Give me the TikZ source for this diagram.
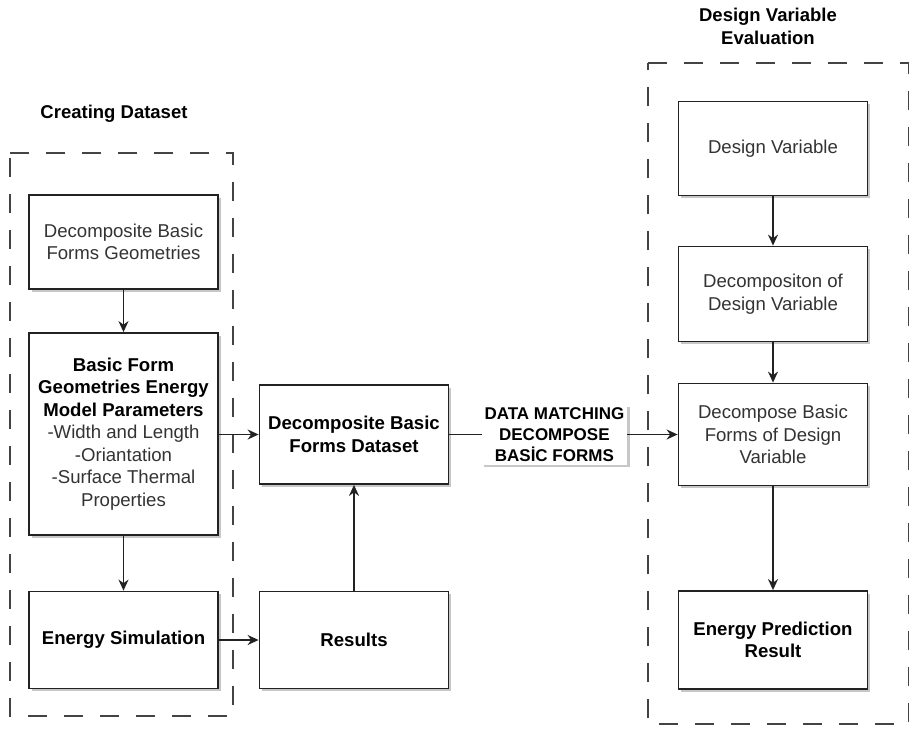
\documentclass[tikz,border=0pt]{standalone}
\usepackage{fontspec}
\setmainfont{Liberation Sans}
\usetikzlibrary{arrows.meta,shadows}
\definecolor{ink}{HTML}{222222}
\definecolor{txt}{HTML}{333333}
\tikzset{
  flowbox/.style={draw=ink, line width=1.8pt, fill=white, align=center, text=txt,
    font=\fontsize{18.6}{22.5}\selectfont, inner sep=0pt,
    drop shadow={shadow xshift=2.5pt, shadow yshift=-2.5pt, opacity=0.22, fill=black}},
  boldbox/.style={flowbox, text=black, font=\fontsize{18.6}{22.5}\selectfont\bfseries},
  conn/.style={draw=ink, line width=1.6pt, -{Stealth[length=11pt,width=10pt]}},
  group/.style={draw=ink!85, line width=1.9pt, dash pattern=on 19pt off 17pt},
  grouptitle/.style={font=\fontsize{18.5}{23}\selectfont\bfseries, text=black, align=center},
}
\begin{document}
\begin{tikzpicture}[x=1pt,y=-1pt]
\useasboundingbox (0,0) rectangle (909,728);
% groups
\draw[group] (10,153) -- (233,153) -- (233,716) -- (10,716) -- cycle;
\draw[group] (648,63) -- (908.5,63) -- (908.5,724) -- (648,724) -- cycle;
\node[grouptitle] (t1) at (114,114) {Creating Dataset};
\node[grouptitle] (t2) at (768,26) {Design Variable\\Evaluation};
% left column
\node[flowbox, minimum width=189pt, minimum height=94pt] (geo) at (123.5,242) {Decomposite Basic\\Forms Geometries};
\node[flowbox, minimum width=189pt, minimum height=202pt] (par) at (123.5,434)
  {\textbf{\color{black}Basic Form}\\\textbf{\color{black}Geometries Energy}\\\textbf{\color{black}Model Parameters}\\-Width and Length\\-Oriantation\\-Surface Thermal\\Properties};
\node[boldbox, minimum width=189pt, minimum height=97pt] (sim) at (123.5,640) {Energy Simulation};
% middle column
\node[boldbox, minimum width=189pt, minimum height=99pt] (ds) at (354,434.5) {Decomposite Basic\\Forms Dataset};
\node[boldbox, minimum width=189pt, minimum height=97pt] (res) at (354,640) {Results};
% right column
\node[flowbox, minimum width=189pt, minimum height=94pt] (dv) at (773,148.5) {Design Variable};
\node[flowbox, minimum width=189pt, minimum height=95pt] (dd) at (773,294) {Decompositon of\\Design Variable};
\node[flowbox, minimum width=189pt, minimum height=102pt] (dbf) at (773,434.5) {Decompose Basic\\Forms of Design\\Variable};
\node[boldbox, minimum width=189pt, minimum height=98pt] (epr) at (773,640) {Energy Prediction\\Result};
% connectors
\draw[conn] (geo) -- (par);
\draw[conn] (par) -- (sim);
\draw[conn] (sim) -- (res);
\draw[conn] (res) -- (ds);
\draw[conn] (par.east |- ds.west) -- (ds.west);
\draw[conn] (ds.east) -- (dbf.west) node[pos=0.46, fill=white, text=black, align=center, inner sep=3pt,
  font=\fontsize{17}{21}\selectfont\bfseries,
  drop shadow={shadow xshift=2.5pt, shadow yshift=-2.5pt, opacity=0.22, fill=black}] (lab) {DATA MATCHING\\DECOMPOSE\\BASİC FORMS};
\draw[conn] (dv) -- (dd);
\draw[conn] (dd) -- (dbf);
\draw[conn] (dbf) -- (epr);
\end{tikzpicture}
\end{document}
